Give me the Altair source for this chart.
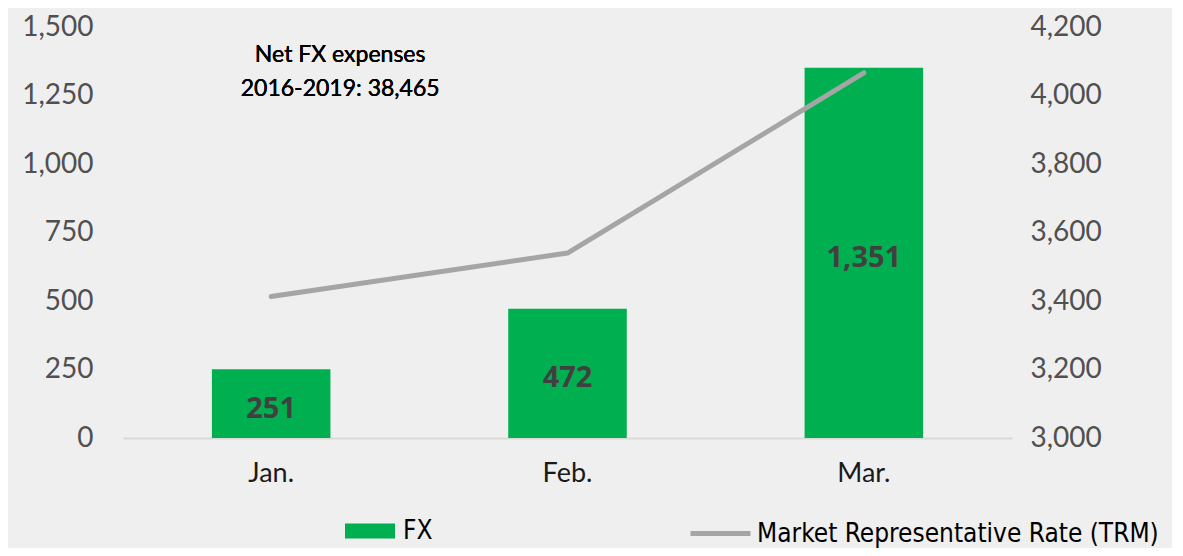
import altair as alt
import pandas as pd

months = ["Jan.", "Feb.", "Mar."]
fx_values = [251, 472, 1351]
trm_values = [3413, 3540, 4066]
fx_labels = ["251", "472", "1,351"]
left_ticks = [0, 250, 500, 750, 1000, 1250, 1500]
right_ticks = [3000, 3200, 3400, 3600, 3800, 4000, 4200]
note_text = "Net FX expenses\n2016-2019: 38,465"
fx_name = "FX"
trm_name = "Market Representative Rate (TRM)"

df = pd.DataFrame({
    "month": months,
    "FX": fx_values,
    "TRM": trm_values,
    "label": fx_labels,
    "s_fx": [fx_name] * 3,
    "s_trm": [trm_name] * 3,
})

GREEN = "#00b050"
GRAY = "#a5a5a5"
AXIS_FONT = "Lato"
LEG_FONT = "DejaVu Sans Condensed, Roboto, sans-serif"

xenc = alt.X(
    "month:N", sort=months,
    scale=alt.Scale(paddingInner=0.6, paddingOuter=0.3),
    axis=alt.Axis(title=None, labelAngle=0, domainColor="#d9d9d9", domainWidth=2,
                  ticks=False, labelFont=AXIS_FONT, labelFontSize=27,
                  labelColor="#1a1a1a", labelPadding=22),
)

yscale = alt.Scale(domain=[0, 1500], nice=False)

bars = alt.Chart(df).mark_bar().encode(
    x=xenc,
    y=alt.Y("FX:Q", scale=yscale,
            axis=alt.Axis(values=left_ticks, format=",.0f", title=None, domain=False,
                          ticks=False, grid=False, labelPadding=30,
                          labelFont=AXIS_FONT, labelFontSize=28, labelColor="#505050")),
    color=alt.Color("s_fx:N", scale=alt.Scale(domain=[fx_name], range=[GREEN]),
                    legend=alt.Legend(title=None, orient="none", legendX=222, legendY=479,
                                      symbolType="M-1,-0.3L1,-0.3L1,0.3L-1,0.3Z",
                                      symbolSize=2500, symbolStrokeWidth=0,
                                      labelFont=LEG_FONT, labelFontSize=26, labelLimit=600,
                                      labelColor="#000000", padding=0, labelOffset=8)),
)

labels = alt.Chart(df).transform_calculate(mid="datum.FX / 2").mark_text(
    font="Open Sans", fontWeight="bold", fontSize=29, color="#404040", baseline="middle", dy=5
).encode(
    x=alt.X("month:N", sort=months),
    y=alt.Y("mid:Q", scale=yscale),
    text="label:N",
)

note = alt.Chart(df).mark_text(
    font="Lato", fontWeight="normal", fontSize=23, color="#000000", lineBreak="\n",
    lineHeight=34, baseline="middle", align="center", dx=69, dy=1, text=note_text,
).encode(
    x=alt.datum("Jan."),
    y=alt.datum(1400),
)

left = alt.layer(bars, labels, note)

line = alt.Chart(df).mark_line(strokeWidth=5, strokeCap="round", strokeJoin="round").encode(
    x=alt.X("month:N", sort=months),
    y=alt.Y("TRM:Q", scale=alt.Scale(domain=[3000, 4200], nice=False),
            axis=alt.Axis(orient="right", values=right_ticks, format=",.0f", title=None,
                          domain=False, ticks=False, grid=False, labelPadding=18,
                          labelFont=AXIS_FONT, labelFontSize=28, labelColor="#505050")),
    stroke=alt.Stroke("s_trm:N", scale=alt.Scale(domain=[trm_name], range=[GRAY]),
                      legend=alt.Legend(title=None, orient="none", legendX=565, legendY=474,
                                        symbolType="stroke", symbolSize=3600,
                                        symbolStrokeWidth=5,
                                        labelFont=LEG_FONT, labelFontSize=26, labelLimit=600,
                                        labelColor="#000000", padding=0, labelOffset=4)),
)

chart = alt.layer(left, line).resolve_scale(y="independent").properties(
    width=889, height=411,
    autosize=alt.AutoSizeParams(type="none"),
    padding={"left": 115, "top": 19, "right": 160, "bottom": 110},
    background="#efefef",
).configure_view(stroke=None)

chart.save("out.html", embed_options={"renderer": "svg", "actions": False})
